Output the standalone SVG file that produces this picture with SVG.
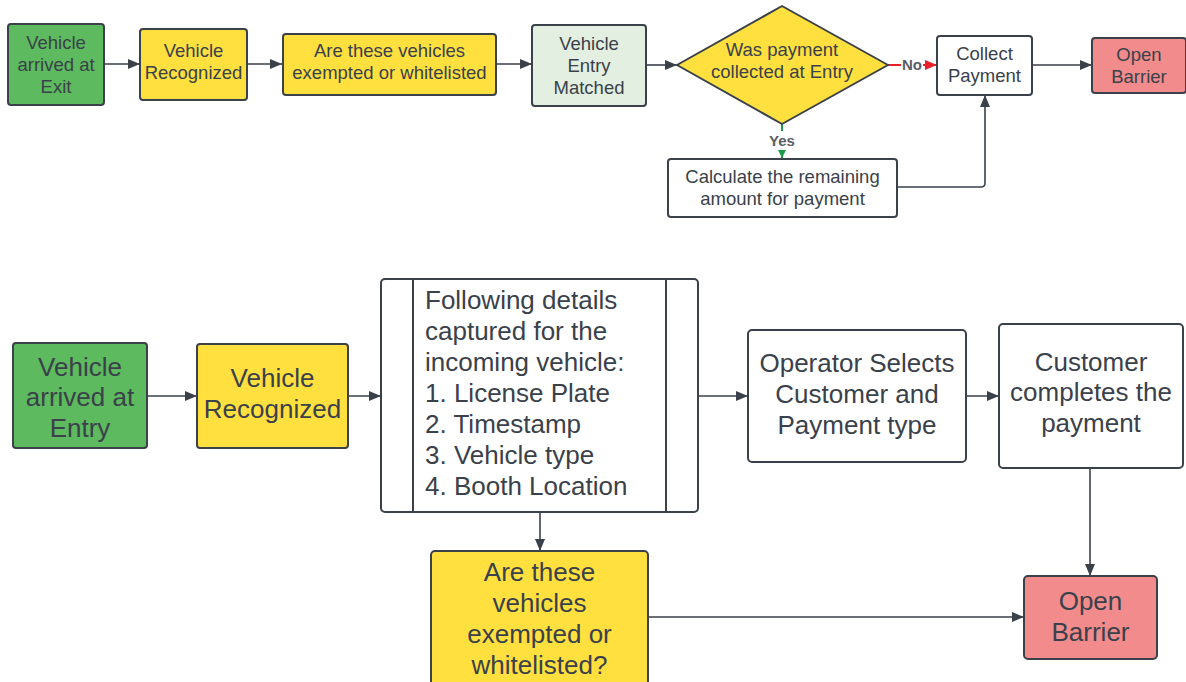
<svg xmlns="http://www.w3.org/2000/svg" width="1186" height="682" viewBox="0 0 1186 682">
<defs>
<style>
.n{stroke:#3a414a;stroke-width:2}
.t{font-family:"Liberation Sans",Arial,sans-serif;fill:#3a414a;text-anchor:middle}
.s{font-size:18.5px}
.b{font-size:26px}
.lab{font-family:"Liberation Sans",Arial,sans-serif;font-weight:bold;font-size:15px;fill:#595e66;text-anchor:middle}
.c{fill:none;stroke:#3a414a;stroke-width:1.6}
</style>
<marker id="ah" markerUnits="userSpaceOnUse" markerWidth="14" markerHeight="10" refX="12" refY="5" orient="auto"><path d="M0,0 L12,5 L0,10 Z" fill="#3a414a"/></marker>
<marker id="ahr" markerUnits="userSpaceOnUse" markerWidth="14" markerHeight="10" refX="12" refY="5" orient="auto"><path d="M0,0 L12,5 L0,10 Z" fill="#e8202a"/></marker>
<marker id="ahg" markerUnits="userSpaceOnUse" markerWidth="10" markerHeight="8" refX="8" refY="4" orient="auto"><path d="M0,0 L8,4 L0,8 Z" fill="#1a9a4a"/></marker>
</defs>
<rect width="1186" height="682" fill="#ffffff"/>

<g id="connectors">
<path class="c" d="M104,64 H140" marker-end="url(#ah)"/>
<path class="c" d="M247,64 H282" marker-end="url(#ah)"/>
<path class="c" d="M496,64 H532" marker-end="url(#ah)"/>
<path class="c" d="M646,65 H677" marker-end="url(#ah)"/>
<path d="M888,65 H937" fill="none" stroke="#e8202a" stroke-width="2" marker-end="url(#ahr)"/>
<rect x="901" y="56" width="22" height="18" fill="#ffffff"/>
<text class="lab" x="912" y="70">No</text>
<path d="M782,124 V158" fill="none" stroke="#1a9a4a" stroke-width="2" marker-end="url(#ahg)"/>
<rect x="766" y="131" width="32" height="19" fill="#ffffff"/>
<text class="lab" x="782" y="145.5">Yes</text>
<path class="c" d="M897,187 H981 Q985,187 985,183 V95" marker-end="url(#ah)"/>
<path class="c" d="M1032,65 H1092" marker-end="url(#ah)"/>

<path class="c" d="M147,396 H197" marker-end="url(#ah)"/>
<path class="c" d="M348,396 H381" marker-end="url(#ah)"/>
<path class="c" d="M698,396 H748" marker-end="url(#ah)"/>
<path class="c" d="M540,512 V551" marker-end="url(#ah)"/>
<path class="c" d="M966,396 H999" marker-end="url(#ah)"/>
<path class="c" d="M1090,468 V576" marker-end="url(#ah)"/>
<path class="c" d="M648,617 H1024" marker-end="url(#ah)"/>
</g>

<g id="exit-arrived">
<rect class="n" x="8" y="24" width="96" height="81" rx="3" fill="#5dba5e"/>
<text class="t s" x="56" y="48.5">Vehicle</text>
<text class="t s" x="56" y="70.5">arrived at</text>
<text class="t s" x="56" y="92.5">Exit</text>
</g>
<g id="exit-recognized">
<rect class="n" x="140" y="29" width="107" height="71" rx="3" fill="#ffe03f"/>
<text class="t s" x="193.5" y="56.5">Vehicle</text>
<text class="t s" x="193.5" y="78.5">Recognized</text>
</g>
<g id="exit-exempted">
<rect class="n" x="283" y="34" width="213" height="61" rx="3" fill="#ffe03f"/>
<text class="t s" x="389.5" y="57">Are these vehicles</text>
<text class="t s" x="389.5" y="79">exempted or whitelisted</text>
</g>
<g id="entry-matched">
<rect class="n" x="532" y="25" width="114" height="81" rx="3" fill="#e3efe0"/>
<text class="t s" x="589" y="49.5">Vehicle</text>
<text class="t s" x="589" y="71.5">Entry</text>
<text class="t s" x="589" y="93.5">Matched</text>
</g>
<g id="payment-decision">
<path class="n" d="M677,65 L782,6 L888,65 L782,124 Z" fill="#ffe03f" stroke-linejoin="round"/>
<text class="t s" x="782" y="55.5">Was payment</text>
<text class="t s" x="782" y="77.5">collected at Entry</text>
</g>
<g id="collect-payment">
<rect class="n" x="937" y="36" width="95" height="59" rx="3" fill="#ffffff"/>
<text class="t s" x="984.5" y="59.5">Collect</text>
<text class="t s" x="984.5" y="82">Payment</text>
</g>
<g id="exit-open-barrier">
<rect class="n" x="1092" y="38" width="94" height="55" rx="3" fill="#f28b8c"/>
<text class="t s" x="1139" y="60.5">Open</text>
<text class="t s" x="1139" y="82.5">Barrier</text>
</g>
<g id="calculate-remaining">
<rect class="n" x="668" y="159" width="229" height="58" rx="3" fill="#ffffff"/>
<text class="t s" x="782.5" y="182.5">Calculate the remaining</text>
<text class="t s" x="782.5" y="204.5">amount for payment</text>
</g>

<g id="entry-arrived">
<rect class="n" x="13" y="343" width="134" height="105" rx="3" fill="#5dba5e"/>
<text class="t b" x="80" y="376">Vehicle</text>
<text class="t b" x="80" y="406">arrived at</text>
<text class="t b" x="80" y="437">Entry</text>
</g>
<g id="entry-recognized">
<rect class="n" x="197" y="344" width="151" height="104" rx="3" fill="#ffe03f"/>
<text class="t b" x="272.5" y="387">Vehicle</text>
<text class="t b" x="272.5" y="418">Recognized</text>
</g>
<g id="details-captured">
<rect class="n" x="381" y="279" width="317" height="233" rx="4" fill="#ffffff"/>
<path class="n" d="M413,279 V512 M666,279 V512" fill="none"/>
<text class="t b" style="text-anchor:start" x="425" y="309">Following details</text>
<text class="t b" style="text-anchor:start" x="425" y="340">captured for the</text>
<text class="t b" style="text-anchor:start" x="425" y="371">incoming vehicle:</text>
<text class="t b" style="text-anchor:start" x="425" y="402">1. License Plate</text>
<text class="t b" style="text-anchor:start" x="425" y="433">2. Timestamp</text>
<text class="t b" style="text-anchor:start" x="425" y="464">3. Vehicle type</text>
<text class="t b" style="text-anchor:start" x="425" y="495">4. Booth Location</text>
</g>
<g id="entry-exempted">
<rect class="n" x="431" y="551" width="217" height="140" rx="4" fill="#ffe03f"/>
<text class="t b" x="539.5" y="581">Are these</text>
<text class="t b" x="539.5" y="612">vehicles</text>
<text class="t b" x="539.5" y="643">exempted or</text>
<text class="t b" x="539.5" y="674">whitelisted?</text>
</g>
<g id="operator-selects">
<rect class="n" x="748" y="330" width="218" height="132" rx="4" fill="#ffffff"/>
<text class="t b" x="857" y="372">Operator Selects</text>
<text class="t b" x="857" y="403">Customer and</text>
<text class="t b" x="857" y="434">Payment type</text>
</g>
<g id="customer-completes">
<rect class="n" x="999" y="324" width="184" height="144" rx="4" fill="#ffffff"/>
<text class="t b" x="1091" y="371">Customer</text>
<text class="t b" x="1091" y="401">completes the</text>
<text class="t b" x="1091" y="432">payment</text>
</g>
<g id="entry-open-barrier">
<rect class="n" x="1024" y="576" width="133" height="83" rx="4" fill="#f28b8c"/>
<text class="t b" x="1090.5" y="610">Open</text>
<text class="t b" x="1090.5" y="641">Barrier</text>
</g>
</svg>
